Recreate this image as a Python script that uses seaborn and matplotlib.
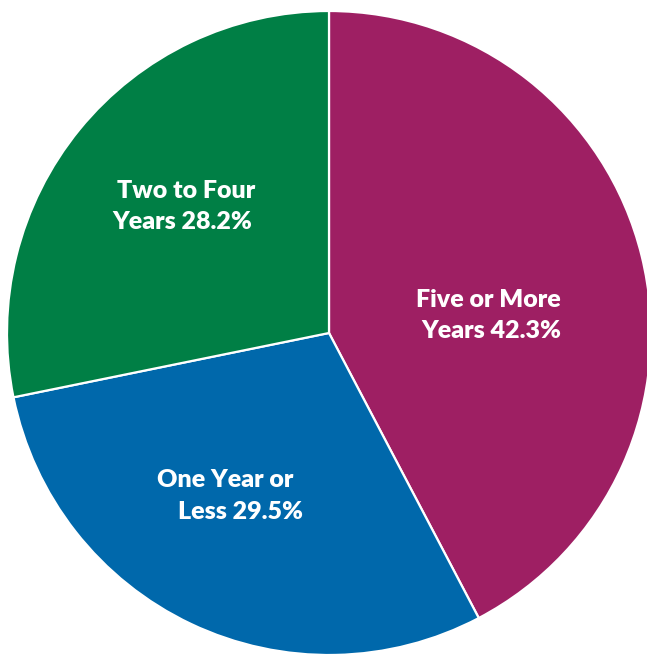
import matplotlib
matplotlib.use("Agg")
import matplotlib.pyplot as plt
import seaborn as sns

# Slice data, clockwise from 12 o'clock
categories = ["Five or More\nYears", "One Year or\nLess", "Two to Four\nYears"]
shares = [42.3, 29.5, 28.2]
colors = ["#9E1F63", "#0068AB", "#007F45"]


def main():
    sns.set_style("white")
    plt.rcParams["font.family"] = ["Lato", "DejaVu Sans"]
    palette = sns.color_palette(colors)

    fig = plt.figure(figsize=(6.47, 6.54), dpi=100)
    # pie centre at (329, 333) px, radius 322 px
    ax = fig.add_axes([7 / 647, (654 - 333 - 322) / 654, 644 / 647, 644 / 654])

    ax.pie(
        shares,
        colors=palette,
        startangle=90,
        counterclock=False,
        radius=1.0,
        wedgeprops=dict(edgecolor="white", linewidth=1.6),
    )
    ax.set_xlim(-1, 1)
    ax.set_ylim(-1, 1)
    ax.set_aspect("equal")
    ax.axis("off")

    # label lines (pixel centres in the reference)
    label_pos = [
        [(488, 300), (491, 331)],
        [(225, 480), (240, 512)],
        [(186, 191), (182, 222)],
    ]
    for name, val, pos in zip(categories, shares, label_pos):
        first, second = name.split("\n")
        lines = [first, f"{second} {val:.1f}%"]
        for txt, (px, py) in zip(lines, pos):
            ax.text(
                (px - 329) / 322, (333 - py) / 322, txt,
                ha="center", va="center", color="white",
                fontsize=18, fontweight="heavy",
            )

    fig.savefig("out.png", dpi=100)


if __name__ == "__main__":
    main()
